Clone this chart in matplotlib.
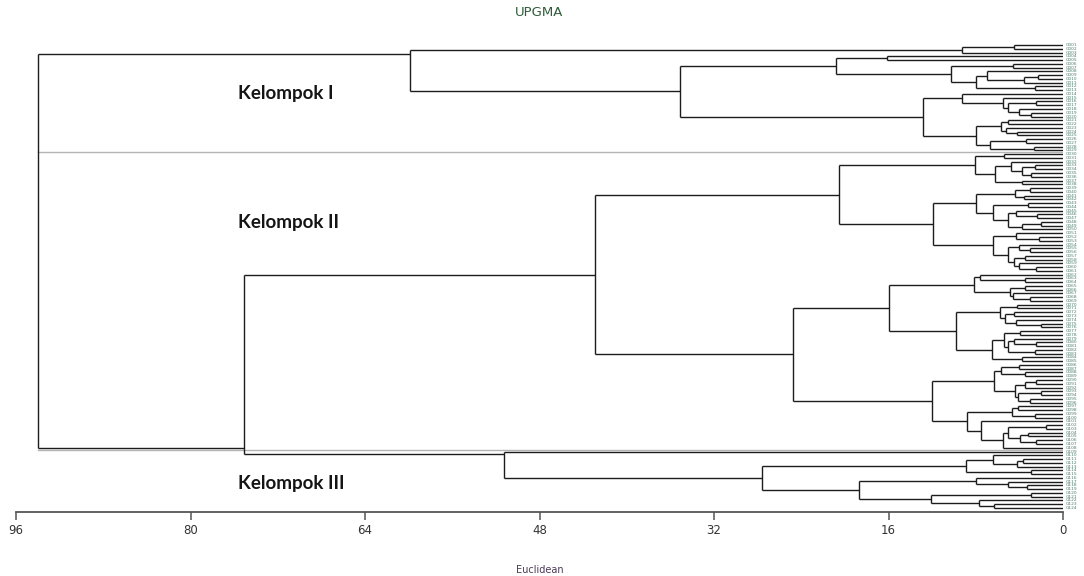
import matplotlib
matplotlib.use("Agg")
from matplotlib import pyplot as plt

# daun = None, simpul = [jarak, anak, anak, ...]
L = None

kelompok_1 = [59.9,
	[9.3, [4.5, L, L], L],
	[35.1,
		[20.8, [16.1, L, L],
			[10.3, [4.6, L, L], [8.0, [7.0, L, [3.6, [2.3, L, L], L]], [2.6, L, L]]]],
		[12.8,
			[9.3, L, [5.5, L, [5.0, [2.5, L, L], [4.0, L, [2.9, L, L]]]]],
			[8.0, [5.7, [5.0, L, L], [5.2, L, [4.2, L, L]]], [6.7, [3.4, L, L], [2.7, L, L]]]]]]

kelompok_2 = [42.9,
	[20.5,
		[8.1, [5.4, L, L], [6.2, [4.8, L, [3.8, [2.6, L, L], [2.9, L, L]]], [3.8, L, L]]],
		[11.9,
			[8.0, [4.4, [3.0, L, L], [3.6, L, L]], [6.4, [3.2, L, L], [5.0, [4.3, L, [2.4, L, L]], [3.8, [2.0, L, L], L]]]],
			[6.4, [4.3, L, [2.2, L, L]], [5.0, [4.0, L, [3.0, L, L]], [4.5, [3.5, L, L], [4.0, L, [2.5, L, L]]]]]]],
	[24.75,
		[16.0,
			[8.2, [7.6, L, [3.5, L, L]], [4.9, [3.5, L, L], [4.6, L, [3.0, L, L]]]],
			[9.8, [5.8, [4.2, L, L], [5.3, [4.5, L, L], [4.3, L, [2.0, L, L]]]],
				[6.5, [5.4, [3.9, L, L], [5.0, [4.5, L, [2.5, L, L]], [2.6, L, L]]], [3.8, L, L]]]],
		[12.0,
			[6.3, [5.7, [4.0, L, L], [3.5, L, L]], [4.4, [3.5, [2.5, L, L], L], [4.1, [2.0, L, L], [3.0, L, L]]]],
			[8.8, [4.7, [4.1, L, L], [2.6, L, L]], [7.5, L, [5.5, [5.0, [1.6, L, L], [3.9, [3.2, L, L], [2.5, L, L]]], L]]]]]]

kelompok_3 = [51.3, L,
	[27.6,
		[8.9, [6.4, L, [4.2, [3.7, L, L], L]], [2.9, L, L]],
		[18.7, [8.0, L, [5.0, L, [3.3, L, L]]], [12.1, [2.9, L, L], [7.7, L, [6.3, L, L]]]]]]

JARAK_GABUNG = 75.1
JARAK_AKAR = 93.95

nama_kelompok = ["Kelompok I", "Kelompok II", "Kelompok III"]
tick_x = [96, 80, 64, 48, 32, 16, 0]

gabungan = [JARAK_GABUNG, kelompok_2, kelompok_3]
akar = [JARAK_AKAR, kelompok_1, gabungan]

# titik sambung yang tidak di tengah (seperti di gambar asli)
tumpuan = {id(kelompok_1): 0.1, id(gabungan): 0.97, id(kelompok_3): 0.08}

WARNA = "#1c1c1c"
LEBAR = 1.0

fig = plt.figure(figsize=(10.84, 5.76), dpi=100)
ax = fig.add_axes([16 / 1084, 1 - 512 / 576, (1063 - 16) / 1084, 472 / 576])

daun = []


def hitungDaun(simpul):
	if simpul is None:
		return 1
	return sum(hitungDaun(a) for a in simpul[1:])


def gambar(simpul):
	if simpul is None:
		y = len(daun)
		daun.append(y)
		return 0.0, y
	h = simpul[0]
	ys = []
	for anak in simpul[1:]:
		ha, ya = gambar(anak)
		ax.plot([ha, h], [ya, ya], color=WARNA, lw=LEBAR, solid_capstyle="butt", zorder=3)
		ys.append(ya)
	ax.plot([h, h], [min(ys), max(ys)], color=WARNA, lw=LEBAR, solid_capstyle="butt", zorder=3)
	f = tumpuan.get(id(simpul), 0.5)
	return h, min(ys) + f * (max(ys) - min(ys))


gambar(akar)
N = len(daun)

# garis pemisah kelompok
n1 = hitungDaun(kelompok_1)
n2 = hitungDaun(kelompok_2)
for batas in [n1 - 0.5, n1 + n2 - 0.5]:
	ax.plot([JARAK_AKAR, 0], [batas, batas], color="#b4b4b4", lw=1.0, zorder=2)

# label daun (tidak terbaca di gambar asli)
for i in daun:
	ax.text(-0.25, i, "G%03d" % (i + 1), fontsize=3.2, color="#4f7d70", va="center", ha="left", clip_on=False)

# tulisan kelompok
posisi_y = [12.8, 47.1, 116.5]
for nama, yy in zip(nama_kelompok, posisi_y):
	ax.text(75.6, yy, nama, fontsize=13.5, fontweight="bold", family=["Lato", "DejaVu Sans"],
		color="#151515", va="center", ha="left")

ax.set_xlim(96, 0)
ax.set_ylim(N - 1 + 4 / 3.76, -5 / 3.76)
ax.set_xticks(tick_x)
ax.set_xticklabels([str(t) for t in tick_x], fontsize=8.5, color="#333333")
ax.set_yticks([])
for s in ["top", "left", "right"]:
	ax.spines[s].set_visible(False)
ax.spines["bottom"].set_color("#555555")
ax.spines["bottom"].set_linewidth(1.3)
ax.tick_params(axis="x", direction="out", length=6, width=1.1, color="#555555", pad=3)

fig.text(539.5 / 1084, 1 - 13 / 576, "UPGMA", fontsize=9.5, color="#2f5d3a", ha="center", va="center")
fig.text(539.5 / 1084, 1 - 570 / 576, "Euclidean", fontsize=7, color="#4b3a55", ha="center", va="center")

fig.savefig("out.png", dpi=100)
